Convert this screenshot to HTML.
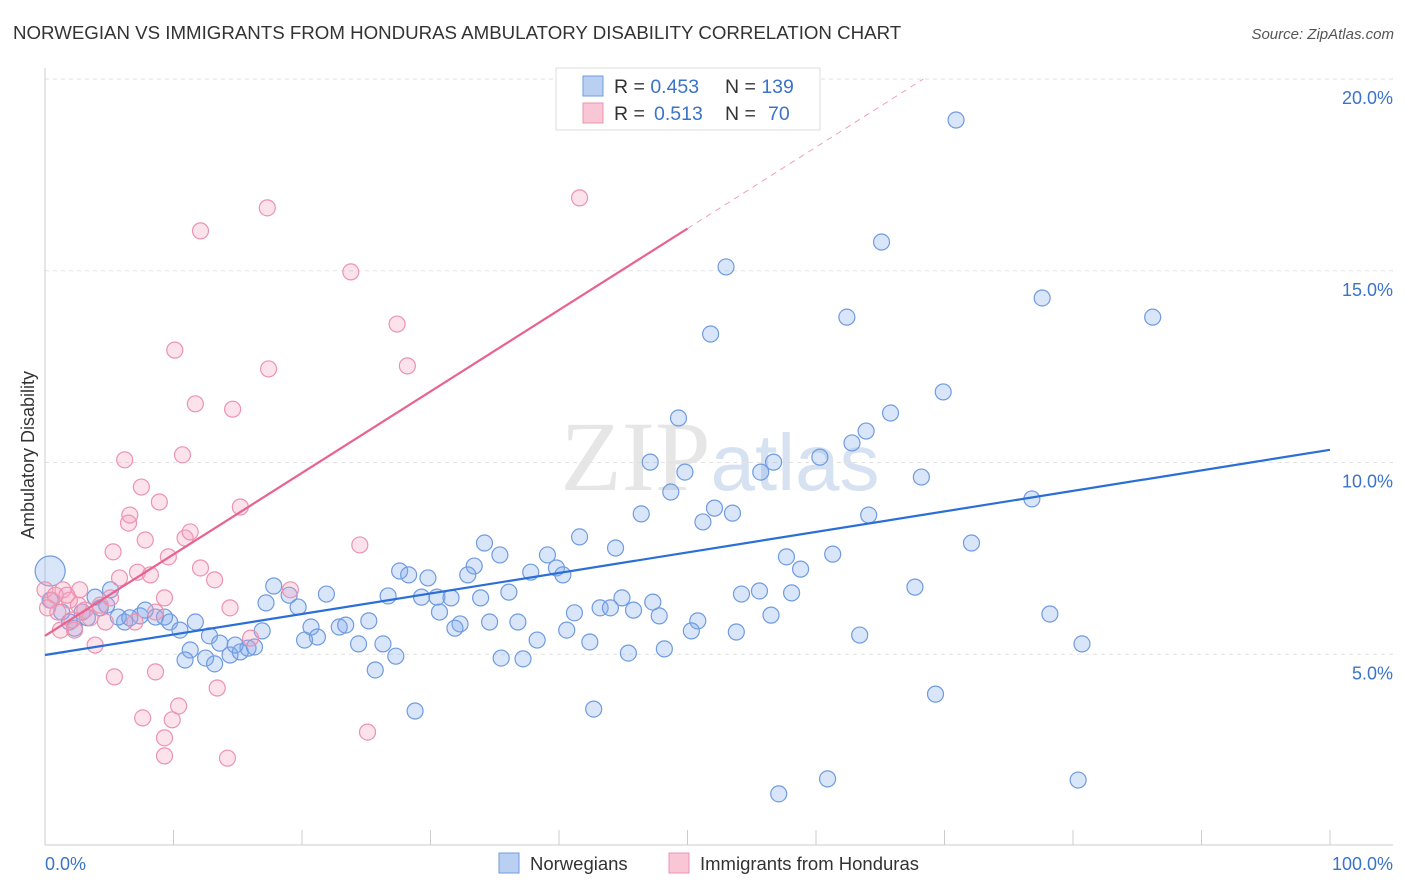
<!DOCTYPE html>
<html><head><meta charset="utf-8"><style>
body{margin:0;background:#fff;font-family:"Liberation Sans",sans-serif;}
#wrap{position:relative;width:1406px;height:892px;overflow:hidden;}
</style></head><body>
<div id="wrap">
<svg id="svg" width="1406" height="892" xmlns="http://www.w3.org/2000/svg">
<text x="13" y="39" font-size="18.7" fill="#333">NORWEGIAN VS IMMIGRANTS FROM HONDURAS AMBULATORY DISABILITY CORRELATION CHART</text>
<text x="1394" y="39" font-size="15" fill="#555" font-style="italic" text-anchor="end">Source: ZipAtlas.com</text>
<text x="720" y="490" font-size="100" fill="#e6e6e6" text-anchor="middle" font-family="Liberation Serif,serif">ZIP<tspan fill="#d6e2f2" font-family="Liberation Sans,sans-serif" font-size="80">atlas</tspan></text>
<g id="grid"></g>
<g id="axes"></g>
<g id="pts"></g>
<g id="lines"></g>
<text transform="translate(34,455) rotate(-90)" font-size="18" fill="#333" text-anchor="middle">Ambulatory Disability</text>
<text x="45" y="870" font-size="18" fill="#3b73c8">0.0%</text>
<text x="1393" y="870" font-size="18" fill="#3b73c8" text-anchor="end">100.0%</text>
<g>
<rect x="556" y="68" width="264" height="62" fill="#fff" stroke="#ddd"/>
<rect x="583" y="76" width="20" height="20" fill="#b9d0f3" stroke="#6f9be0"/>
<rect x="583" y="103" width="20" height="20" fill="#f9c6d6" stroke="#ec93b0"/>
<text x="614" y="93" font-size="19.5" fill="#333">R = <tspan fill="#3b73c8">0.453</tspan><tspan x="725">N = </tspan><tspan fill="#3b73c8">139</tspan></text>
<text x="614" y="120" font-size="19.5" fill="#333">R = <tspan x="654" fill="#3b73c8">0.513</tspan><tspan x="725">N = </tspan><tspan x="768" fill="#3b73c8">70</tspan></text>
</g>
<g>
<rect x="499" y="853" width="20" height="20" fill="#b9d0f3" stroke="#6f9be0"/>
<text x="530" y="870" font-size="18.5" fill="#333">Norwegians</text>
<rect x="669" y="853" width="20" height="20" fill="#f9c6d6" stroke="#ec93b0"/>
<text x="700" y="870" font-size="18.5" fill="#333">Immigrants from Honduras</text>
</g>
</svg>
</div>
<script>
const yTicks=[5,10,15,20];
const yTickLabels=["5.0%","10.0%","15.0%","20.0%"];
const xTicks=[0,10,20,30,40,50,60,70,80,90,100];
const blueX=[70.9,65.1,53.0,77.6,62.4,86.2,51.8,69.9,65.8,49.3,63.9,62.8,60.3,47.1,49.8,56.7,55.7,68.2,48.7,76.8,52.1,46.4,53.5,51.2,64.1,41.6,34.2,72.1,44.4,35.4,39.1,57.7,61.3,39.8,33.4,37.8,40.3,58.8,32.9,27.6,28.3,29.8,17.8,19.0,21.9,26.7,29.3,30.5,33.9,31.6,36.1,54.2,55.6,58.1,67.7,44.9,47.3,17.2,19.7,30.7,41.2,43.2,44.0,45.8,47.8,56.5,78.2,50.8,25.2,34.6,36.8,32.3,31.9,40.6,53.8,50.3,22.9,23.4,20.7,21.2,20.2,16.9,63.4,38.3,24.4,26.3,42.4,45.4,48.2,27.3,35.5,37.2,25.7,80.7,69.3,28.8,42.7,60.9,80.4,57.1,1.3,1.9,2.9,4.3,5.1,6.2,7.4,8.6,9.7,10.5,11.7,12.8,13.6,11.3,10.9,12.5,13.2,14.4,15.2,15.8,16.3,14.8,7.8,9.3,3.9,4.8,0.4,5.7,2.3,3.3,6.6,0.4];
const blueY=[18.93,15.75,15.10,14.29,13.79,13.79,13.35,11.84,11.29,11.16,10.82,10.51,10.14,10.01,9.75,10.01,9.75,9.62,9.23,9.05,8.81,8.66,8.68,8.45,8.63,8.06,7.90,7.90,7.77,7.59,7.59,7.54,7.61,7.25,7.30,7.14,7.07,7.22,7.07,7.17,7.07,6.99,6.78,6.54,6.57,6.52,6.49,6.49,6.47,6.47,6.62,6.57,6.65,6.60,6.75,6.47,6.36,6.34,6.23,6.10,6.08,6.21,6.21,6.15,6.00,6.02,6.05,5.87,5.87,5.84,5.84,5.79,5.68,5.63,5.58,5.61,5.71,5.76,5.71,5.45,5.37,5.61,5.50,5.37,5.27,5.27,5.32,5.03,5.14,4.95,4.90,4.88,4.59,5.27,3.96,3.52,3.57,1.75,1.72,1.36,6.10,5.84,6.10,6.21,6.68,5.84,6.00,5.97,5.84,5.63,5.84,5.48,5.29,5.11,4.85,4.90,4.75,4.98,5.06,5.16,5.19,5.24,6.15,5.97,6.49,6.28,6.41,5.97,5.68,5.95,5.95,7.17];
const pinkX=[0,0.5,1.0,1.4,1.9,2.3,2.7,3.1,3.5,3.9,4.3,4.7,5.1,5.4,5.3,5.8,6.2,6.5,6.6,7.0,7.2,7.5,7.8,8.2,8.6,8.9,9.3,9.6,10.1,10.7,10.9,11.3,11.7,12.1,12.1,13.2,14.4,14.6,15.2,16.0,17.3,17.4,19.1,23.8,24.5,27.4,28.2,41.6,25.1,14.2,9.3,9.3,7.6,8.6,9.9,10.4,13.4,1.2,0.2,0.8,1.7,2.1,2.6];
const pinkY=[6.68,6.41,6.10,6.68,6.41,5.63,6.68,6.15,5.95,5.24,6.28,5.84,6.47,4.41,7.67,6.99,10.07,8.42,8.63,5.84,7.14,9.36,7.98,7.07,6.10,8.97,6.47,7.54,12.93,10.20,8.03,8.19,11.53,7.25,16.04,6.94,6.21,11.39,8.84,5.42,16.64,12.44,6.68,14.97,7.85,13.61,12.52,16.90,2.97,2.29,2.35,2.82,3.34,4.54,3.29,3.65,4.12,5.63,6.21,6.54,6.54,5.89,6.28];
const blueFit=[4.98,10.33];
const pinkFit=[5.48,26.72];
const NS="http://www.w3.org/2000/svg";
const X=v=>45+v*12.85, Y=v=>846-v*38.35;
function mk(tag,attrs,parent){const e=document.createElementNS(NS,tag);for(const k in attrs)e.setAttribute(k,attrs[k]);document.getElementById(parent).appendChild(e);return e;}
yTicks.forEach((t,i)=>{
 const l=mk('line',{x1:45,x2:1393,y1:Y(t),y2:Y(t),stroke:'#e2e2e2','stroke-dasharray':'4,4'},'grid');
 
 
 const tx=mk('text',{x:1393,y:Y(t)+25,'font-size':18,fill:'#3b73c8','text-anchor':'end'},'grid');
 tx.textContent=yTickLabels[i];
 
 
});
const ax=mk('line',{x1:45,x2:45,y1:68,y2:845,stroke:'#ccc'},'axes');


const bx=mk('line',{x1:45,x2:1393,y1:845,y2:845,stroke:'#ccc'},'axes');


xTicks.forEach(t=>{
 const l=mk('line',{x1:X(t),x2:X(t),y1:830,y2:845,stroke:'#ccc'},'axes');
 
 
});
blueX.forEach((x,i)=>{
 const big=i===blueX.length-1;
 const c=mk('circle',{cx:X(x),cy:Y(blueY[i]),r:big?15:8,fill:'rgba(130,170,235,0.3)',stroke:'#6f9be0','stroke-width':1.2},'pts');
 
 
});
pinkX.forEach((x,i)=>{
 const c=mk('circle',{cx:X(x),cy:Y(pinkY[i]),r:8,fill:'rgba(245,160,190,0.3)',stroke:'#ec93b0','stroke-width':1.2},'pts');
 
 
});
const bl=mk('line',{x1:X(0),y1:Y(blueFit[0]),x2:X(100),y2:Y(blueFit[1]),stroke:'#2a6fd6','stroke-width':2.2},'lines');


const ps=(pinkFit[1]-pinkFit[0])/100;
const pl=mk('line',{x1:X(0),y1:Y(pinkFit[0]),x2:X(50),y2:Y(pinkFit[0]+50*ps),stroke:'#e8638e','stroke-width':2.2},'lines');


const xe=(20.0-pinkFit[0])/ps;
const pd=mk('line',{x1:X(50),y1:Y(pinkFit[0]+50*ps),x2:X(xe),y2:Y(20.0),stroke:'#f0a0b8','stroke-width':1,'stroke-dasharray':'6,5'},'lines');


</script>
</body></html>
